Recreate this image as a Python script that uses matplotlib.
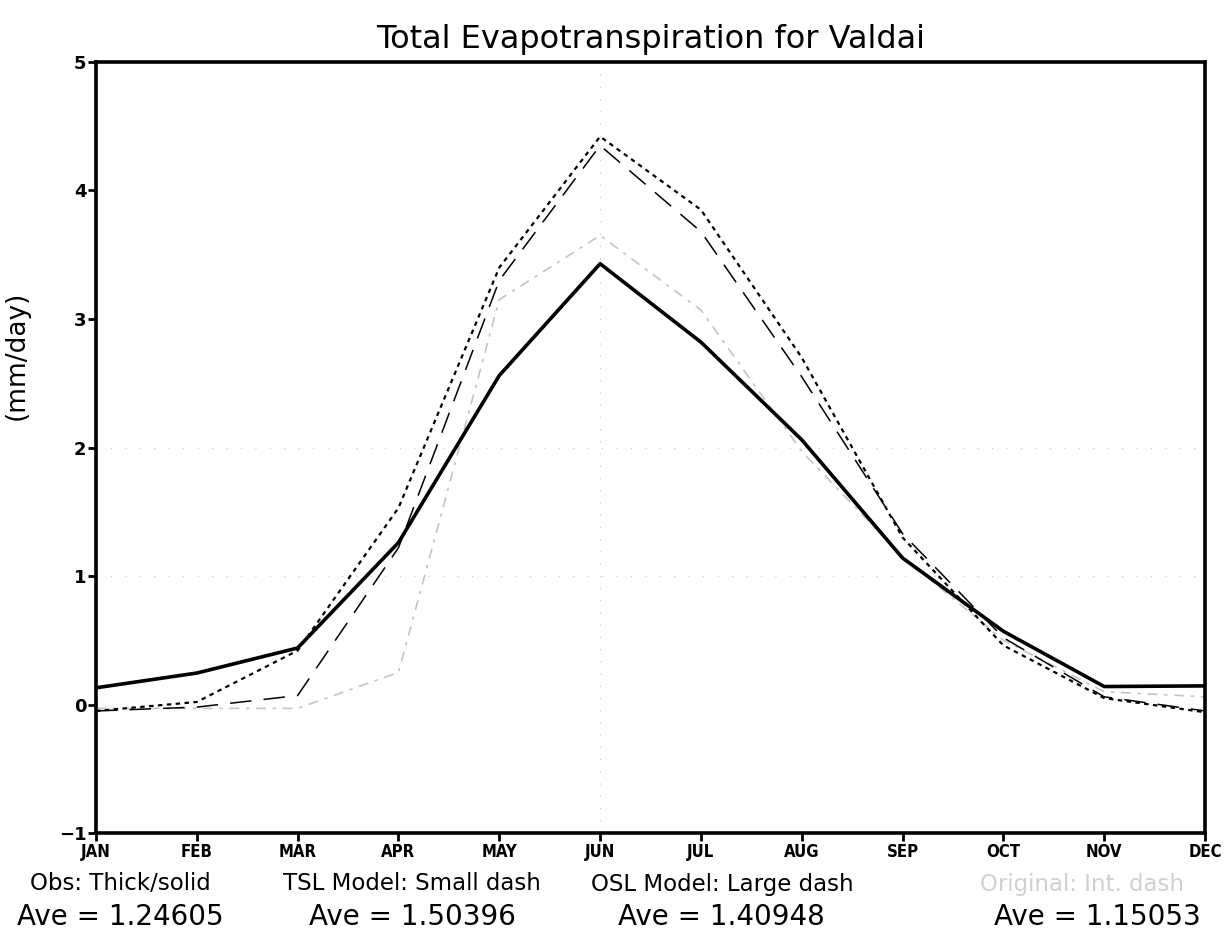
import numpy as np
import matplotlib
matplotlib.use("Agg")
import matplotlib.pyplot as plt

# monthly mean evapotranspiration (mm/day)
months = ["JAN", "FEB", "MAR", "APR", "MAY", "JUN", "JUL", "AUG", "SEP", "OCT", "NOV", "DEC"]
obs = [0.13, 0.245, 0.44, 1.26, 2.56, 3.43, 2.82, 2.06, 1.14, 0.57, 0.14, 0.145]
tsl = [-0.05, 0.02, 0.42, 1.53, 3.40, 4.42, 3.85, 2.70, 1.30, 0.46, 0.05, -0.06]
osl = [-0.05, -0.02, 0.07, 1.22, 3.30, 4.35, 3.68, 2.55, 1.33, 0.52, 0.06, -0.05]
orig = [-0.03, -0.03, -0.03, 0.25, 3.15, 3.65, 3.07, 1.97, 1.15, 0.50, 0.10, 0.06]

captions = ["Obs: Thick/solid", "TSL Model: Small dash", "OSL Model: Large dash", "Original: Int. dash"]
averages = ["Ave = 1.24605", "Ave = 1.50396", "Ave = 1.40948", "Ave = 1.15053"]

fig = plt.figure(figsize=(12.29, 9.36), dpi=100)
ax = fig.add_axes([0.0781, 0.1100, 0.9024, 0.8238])

x = np.arange(len(months))

# faint dotted guide lines
for yv in [1, 2]:
    ax.axhline(yv, color="#c8c8c8", lw=0.8, ls=(0, (1, 12)), zorder=0)
ax.axvline(5, color="#c8c8c8", lw=0.8, ls=(0, (1, 10)), zorder=0)

ax.plot(x, orig, color="#c4c4c4", lw=1.2, ls=(0, (6, 4, 2, 4)), zorder=1)
ax.plot(x, osl, color="black", lw=1.1, ls=(0, (14, 8)), zorder=2)
ax.plot(x, tsl, color="black", lw=1.6, ls=(0, (2, 2)), zorder=3)
ax.plot(x, obs, color="black", lw=2.6, zorder=4)

ax.set_xlim(0, 11)
ax.set_ylim(-1, 5)
ax.set_xticks(x)
ax.set_xticklabels(months)
ax.set_yticks([-1, 0, 1, 2, 3, 4, 5])
ax.set_yticklabels(["\u22121", "0", "1", "2", "3", "4", "5"])

for s in ax.spines.values():
    s.set_linewidth(2.6)
ax.tick_params(axis="both", direction="out", length=6, width=2.0, pad=1)
for lab in ax.get_xticklabels():
    lab.set_fontweight("bold")
    lab.set_fontstretch("condensed")
    lab.set_fontsize(12)
for lab in ax.get_yticklabels():
    lab.set_fontweight("bold")
    lab.set_fontsize(13)

ax.set_title("Total Evapotranspiration for Valdai", fontsize=23, pad=10)
ax.set_ylabel("(mm/day)", fontsize=19)
ax.yaxis.set_label_coords(-0.06, 0.62)

cap_x = [120, 412, 722, 1082]
ave_x = [120, 412, 721, 1097]
cap_colors = ["black", "black", "black", "#d0d0d0"]
for i in range(4):
    fig.text(cap_x[i] / 1229, 1 - 884 / 936, captions[i], ha="center", va="center",
             fontsize=16.5, color=cap_colors[i])
    fig.text(ave_x[i] / 1229, 1 - 917 / 936, averages[i], ha="center", va="center",
             fontsize=20, color="black")

fig.savefig("out.png", dpi=100)
